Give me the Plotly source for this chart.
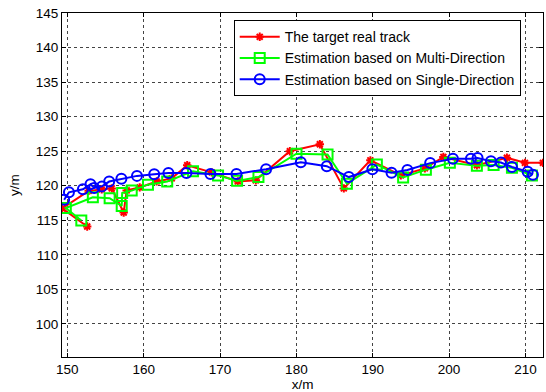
import plotly.graph_objects as go

# True track
real_x = [152.6, 149.32, 152.79, 154.5, 155.81, 157.38, 157.77, 159.48, 161.7, 163.67,
          165.7, 168.91, 172.32, 174.68, 179.14, 183.07, 186.21, 189.69, 193.68, 196.83,
          199.25, 203.64, 207.57, 209.93, 212.29]
real_y = [114.09, 116.71, 119.25, 119.46, 119.61, 116.12, 119.32, 119.75, 120.62, 121.06,
          122.95, 121.93, 120.62, 120.77, 124.98, 125.99, 119.61, 123.67, 121.49, 122.51,
          124.15, 122.95, 124.04, 123.31, 123.31]

# Multi-direction estimate
multi_x = [151.83, 149.8, 153.34, 155.54, 157.12, 157.18, 158.43, 160.56, 163.08, 166.46,
           169.74, 172.23, 175.03, 180.01, 184.08, 186.61, 190.54, 193.98, 196.96, 200.1,
           203.64, 205.83, 208.23, 210.85]
multi_y = [114.96, 116.76, 118.33, 118.19, 117.07, 118.95, 119.29, 120.15, 120.62, 122.1,
           121.49, 120.7, 121.25, 124.64, 124.51, 120.29, 123.05, 121.18, 122.32, 123.31,
           122.87, 122.99, 122.58, 121.49]

# Single-direction estimate
single_x = [149.58, 150.21, 152.04, 153.03, 153.51, 154.53, 155.48, 157.08, 159.12, 161.38,
            163.24, 165.6, 168.74, 172.15, 176.03, 180.58, 183.98, 186.87, 189.95, 192.46,
            194.54, 197.52, 200.5, 202.86, 203.73, 205.48, 206.79, 208.23, 210.29, 210.98]
single_y = [117.97, 119.04, 119.49, 120.22, 119.68, 119.9, 120.6, 120.99, 121.42, 121.64,
            121.84, 121.83, 121.68, 121.68, 122.39, 123.38, 122.83, 121.25, 122.37, 121.86,
            122.26, 123.27, 123.89, 123.89, 124.0, 123.53, 123.35, 122.7, 122.02, 121.6]

x_ticks = [150, 160, 170, 180, 190, 200, 210]
y_ticks = [100, 105, 110, 115, 120, 125, 130, 135, 140, 145]

font = dict(family="Liberation Sans, Arial, sans-serif", size=13.5, color="black")
legend_font = dict(family="Liberation Sans, Arial, sans-serif", size=14, color="black")

fig = go.Figure()
fig.add_trace(go.Scatter(
    x=real_x, y=real_y, mode="lines+markers", name="The target real track",
    line=dict(color="#ff0000", width=2),
    marker=dict(symbol="asterisk-open", size=7, color="#ff0000", line=dict(color="#ff0000", width=2)),
))
fig.add_trace(go.Scatter(
    x=multi_x, y=multi_y, mode="lines+markers", name="Estimation based on Multi-Direction",
    line=dict(color="#00ff00", width=2),
    marker=dict(symbol="square-open", size=10, color="#00ff00", line=dict(color="#00ff00", width=2)),
))
fig.add_trace(go.Scatter(
    x=single_x, y=single_y, mode="lines+markers", name="Estimation based on Single-Direction",
    line=dict(color="#0000ff", width=2),
    marker=dict(symbol="circle-open", size=10, color="#0000ff", line=dict(color="#0000ff", width=2)),
))

axis_common = dict(
    showline=True, linecolor="black", linewidth=1, mirror="ticks",
    ticks="inside", ticklen=4, tickcolor="black",
    showgrid=True, gridcolor="#444444", griddash="dot", gridwidth=1,
    zeroline=False, tickfont=font,
)

fig.update_xaxes(range=[149.3, 212.3], tickvals=x_ticks,
                 title=dict(text="x/m", font=font, standoff=0), **axis_common)
fig.update_yaxes(range=[95.2, 145], tickvals=y_ticks,
                 title=dict(text="y/m", font=font, standoff=13), **axis_common)

fig.update_layout(
    width=546, height=392,
    margin=dict(l=62, r=3, t=13, b=35, autoexpand=False),
    paper_bgcolor="white", plot_bgcolor="white",
    font=font,
    showlegend=True,
    legend=dict(
        x=0.357, y=0.979, xanchor="left", yanchor="top",
        bgcolor="white", bordercolor="black", borderwidth=1,
        font=legend_font, itemwidth=40, tracegroupgap=0,
    ),
)

fig.write_html(
    "out.html",
    config={"displayModeBar": False},
    post_script="document.body.style.margin='0';document.body.style.overflow='hidden';",
)
